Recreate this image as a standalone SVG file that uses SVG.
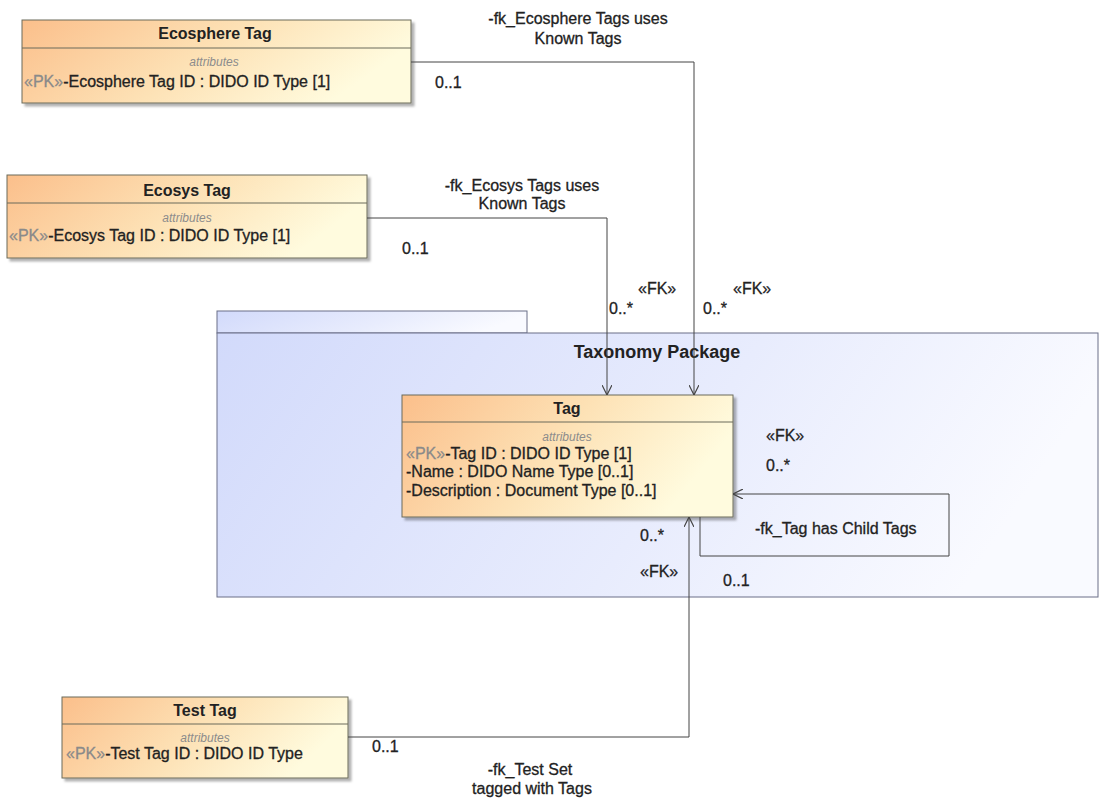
<svg xmlns="http://www.w3.org/2000/svg" width="1099" height="799" viewBox="0 0 1099 799">
<defs>
<linearGradient id="cls" x1="0" y1="0" x2="1" y2="0.3">
<stop offset="0" stop-color="#fbbf8b"/>
<stop offset="0.55" stop-color="#fde2b6"/>
<stop offset="1" stop-color="#fffbde"/>
</linearGradient>
<linearGradient id="pkg" x1="0" y1="0" x2="1" y2="0.2">
<stop offset="0" stop-color="#d2dafb"/>
<stop offset="0.6" stop-color="#e8ecfd"/>
<stop offset="1" stop-color="#f9faff"/>
</linearGradient>
<filter id="sh" x="-5%" y="-5%" width="110%" height="115%">
<feDropShadow dx="3" dy="3" stdDeviation="1.2" flood-color="#000" flood-opacity="0.3"/>
</filter>
<marker id="arr" viewBox="0 0 10 10" refX="10" refY="5" markerWidth="10" markerHeight="10" orient="auto" markerUnits="userSpaceOnUse">
<path d="M0,0 L10,5 L0,10" fill="none" stroke="#444" stroke-width="1.2"/>
</marker>
</defs>
<style>
text{font-family:"Liberation Sans",Arial,sans-serif;font-size:16px;fill:#222;stroke:#222;stroke-width:0.3}
.box{fill:url(#cls);stroke:#6b6b5a;stroke-width:1;filter:url(#sh)}
.sep{stroke:#6b6b5a;stroke-width:1}
.title{font-weight:bold;font-size:16px;text-anchor:middle;stroke:none}
.attr{font-style:italic;fill:#8c8c8c;stroke:none;font-size:12px;text-anchor:middle}
.pk{fill:#8a8a8a;stroke:#8a8a8a}
.line{fill:none;stroke:#444;stroke-width:1}
.lbl{text-anchor:middle}
.pkgshape{fill:url(#pkg);stroke:#6a6f88;stroke-width:1}
</style>
<rect width="1099" height="799" fill="#ffffff"/>

<g id="taxonomy-package">
<rect class="pkgshape" x="217" y="311" width="310" height="22"/>
<rect class="pkgshape" x="217" y="333" width="881" height="264"/>
<text x="657" y="358" style="font-weight:bold;font-size:18px;text-anchor:middle;stroke:none">Taxonomy Package</text>
</g>

<g id="ecosphere-tag">
<rect class="box" x="22" y="20" width="389" height="83"/>
<line class="sep" x1="22" y1="48" x2="411" y2="48"/>
<text class="title" x="215" y="39">Ecosphere Tag</text>
<text class="attr" x="214" y="66">attributes</text>
<text x="24" y="87"><tspan class="pk">«PK»</tspan>-Ecosphere Tag ID : DIDO ID Type [1]</text>
</g>

<g id="ecosys-tag">
<rect class="box" x="7" y="175" width="360" height="83"/>
<line class="sep" x1="7" y1="203" x2="367" y2="203"/>
<text class="title" x="187" y="196">Ecosys Tag</text>
<text class="attr" x="187" y="222">attributes</text>
<text x="9" y="241"><tspan class="pk">«PK»</tspan>-Ecosys Tag ID : DIDO ID Type [1]</text>
</g>

<g id="tag">
<rect class="box" x="402" y="395" width="331" height="122"/>
<line class="sep" x1="402" y1="422" x2="733" y2="422"/>
<text class="title" x="567" y="414">Tag</text>
<text class="attr" x="567" y="441">attributes</text>
<text x="406" y="459"><tspan class="pk">«PK»</tspan>-Tag ID : DIDO ID Type [1]</text>
<text x="406" y="477">-Name : DIDO Name Type [0..1]</text>
<text x="406" y="496">-Description : Document Type [0..1]</text>
</g>

<g id="test-tag">
<rect class="box" x="62" y="697" width="286" height="81"/>
<line class="sep" x1="62" y1="724" x2="348" y2="724"/>
<text class="title" x="205" y="716">Test Tag</text>
<text class="attr" x="205" y="742">attributes</text>
<text x="66" y="759"><tspan class="pk">«PK»</tspan>-Test Tag ID : DIDO ID Type</text>
</g>

<g id="connectors">
<polyline class="line" points="411,62 694,62 694,395" marker-end="url(#arr)"/>
<polyline class="line" points="367,218 607,218 607,395" marker-end="url(#arr)"/>
<polyline class="line" points="700,517 700,556 949,556 949,494 733,494" marker-end="url(#arr)"/>
<polyline class="line" points="348,737 689,737 689,517" marker-end="url(#arr)"/>

<text class="lbl" x="578" y="24">-fk_Ecosphere Tags uses</text>
<text class="lbl" x="578" y="44">Known Tags</text>
<text x="435" y="88">0..1</text>
<text x="733" y="294">«FK»</text>
<text x="703" y="314">0..*</text>

<text class="lbl" x="522" y="191">-fk_Ecosys Tags uses</text>
<text class="lbl" x="522" y="209">Known Tags</text>
<text x="402" y="254">0..1</text>
<text x="638" y="294">«FK»</text>
<text x="609" y="314">0..*</text>

<text x="766" y="441">«FK»</text>
<text x="766" y="471">0..*</text>
<text x="755" y="534">-fk_Tag has Child Tags</text>
<text x="723" y="586">0..1</text>

<text x="640" y="541">0..*</text>
<text x="640" y="577">«FK»</text>
<text x="372" y="752">0..1</text>
<text class="lbl" x="530" y="775">-fk_Test Set</text>
<text class="lbl" x="532" y="794">tagged with Tags</text>
</g>
</svg>
